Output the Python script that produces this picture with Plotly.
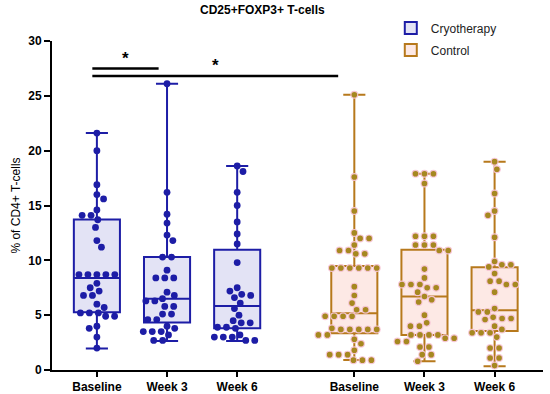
import math
import plotly.graph_objects as go

# ---------------- data ----------------
tick_labels = ["Baseline", "Week 3", "Week 6", "Baseline", "Week 3", "Week 6"]
positions = [0, 1, 2, 3.67, 4.67, 5.67]

cryo_baseline = [21.6, 20.0, 16.9, 16.0, 15.6, 14.6, 14.1, 14.1, 13.7, 13.0, 11.8, 11.2,
                 8.7, 8.7, 8.7, 8.7, 8.7, 7.9, 7.5, 7.2, 6.8, 6.8, 6.0, 5.7, 5.2, 5.2, 5.2,
                 4.9, 4.9, 4.0, 3.8, 3.0, 2.0]
cryo_week3 = [26.1, 16.2, 14.2, 13.4, 12.3, 11.8, 10.3, 10.3, 9.1, 8.4, 8.4, 8.4, 7.1, 6.8,
              6.5, 6.3, 6.3, 5.8, 5.8, 5.1, 5.1, 4.6, 4.6, 4.0, 3.8, 3.5, 3.5, 3.5, 3.2, 2.7, 2.7]
cryo_week6 = [18.6, 18.1, 16.2, 15.0, 13.5, 12.4, 11.5, 9.8, 7.5, 7.2, 6.9, 6.8, 6.6, 6.1,
              5.6, 5.0, 4.5, 4.3, 4.3, 3.9, 3.9, 3.8, 3.2, 3.0, 3.0, 3.0, 2.7, 2.7]
ctrl_baseline = [25.1, 17.6, 14.5, 12.5, 12.0, 12.0, 11.4, 10.9, 10.9, 10.6, 10.6,
                 9.3, 9.3, 9.3, 9.3, 9.3, 9.3, 7.6, 6.8, 6.1, 5.5, 5.5, 4.9, 4.9, 4.9, 4.9,
                 3.8, 3.7, 3.7, 3.7, 3.7, 3.7, 3.2, 3.2, 2.8, 2.4, 1.8, 1.4, 1.4, 1.4, 0.9, 0.9, 0.9]
ctrl_week3 = [17.9, 17.9, 17.9, 17.0, 12.2, 12.2, 12.2, 11.4, 11.4, 11.4, 10.9, 10.9, 9.2,
              8.4, 7.8, 7.8, 7.8, 7.5, 7.5, 7.1, 6.7, 6.4, 6.2, 5.0, 4.3, 4.0, 4.0, 3.2, 3.2,
              3.2, 3.2, 2.9, 2.9, 2.6, 2.6, 2.1, 2.1, 1.4, 1.4, 0.8]
ctrl_week6 = [19.0, 18.3, 16.1, 14.5, 14.1, 12.1, 9.9, 9.6, 9.6, 9.4, 8.8, 8.1, 8.1, 7.8, 7.8,
              7.1, 5.6, 5.3, 5.3, 4.8, 4.7, 4.7, 4.6, 4.0, 3.7, 3.4, 3.4, 3.4, 3.0, 2.0, 2.0,
              1.1, 1.1, 0.4]

# box statistics (min / Q1 / median / Q3 / max)
cryo_min = [1.95, 2.64, 2.64]
cryo_q1 = [5.26, 4.34, 3.80]
cryo_med = [8.40, 6.50, 5.83]
cryo_q3 = [13.73, 10.30, 10.97]
cryo_max = [21.6, 26.1, 18.6]

ctrl_min = [0.91, 0.79, 0.35]
ctrl_q1 = [3.34, 3.19, 3.55]
ctrl_med = [5.17, 6.70, 5.45]
ctrl_q3 = [9.48, 10.96, 9.36]
ctrl_max = [25.1, 17.9, 18.98]

# significance brackets
sig_x0 = [-0.065, -0.065]
sig_x1 = [0.88, 3.44]
sig_y = [27.5, 26.8]
star_x = [0.41, 1.69]
star_y = [28.45, 27.75]

# ---------------- styling ----------------
BLUE = "#1d1da6"
BLUE_FILL = "#e3e3f5"
BROWN = "#b7791c"
BROWN_FILL = "#fde9e5"
OLIVE = "#a68820"
FONT = "Liberation Sans, Arial, sans-serif"

XPX = 70.4   # pixels per x unit (approx)
YPX = 10.97  # pixels per y unit (approx)


def swarm(vals, pos, step=9.0, dmin=8.0):
    """Compact beeswarm: equal values form symmetric rows, rows are shifted minimally."""
    s = sorted(vals, reverse=True)
    rows = []
    for v in s:
        if rows and rows[-1][0] - v < 0.15:
            rows[-1].append(v)
        else:
            rows.append([v])
    placed = []
    toggle = 1
    for r in rows:
        n = len(r)
        base = [((i - (n - 1) / 2) * step, v * YPX) for i, v in enumerate(r)]
        cands = {0.0}
        for bx, by in base:
            for qx, qy in placed:
                dy = abs(by - qy)
                if dy < dmin:
                    dx = math.sqrt(dmin ** 2 - dy ** 2) + 0.01
                    cands.add(qx + dx - bx)
                    cands.add(qx - dx - bx)
        order = sorted(cands, key=lambda c: (round(abs(c), 3), -toggle * c))
        chosen = None
        for sh in order:
            pts = [(bx + sh, by) for bx, by in base]
            if all((px - qx) ** 2 + (py - qy) ** 2 >= (dmin - 0.02) ** 2
                   for px, py in pts for qx, qy in placed):
                chosen = pts
                if abs(sh) > 0.5:
                    toggle = -1 if sh > 0 else 1
                break
        placed += chosen
    xs = [pos + p[0] / XPX for p in placed]
    ys = [p[1] / YPX for p in placed]
    return xs, ys


fig = go.Figure()

fig.add_trace(go.Box(
    name="Cryotherapy", legendgroup="cryo", x=positions[:3], q1=cryo_q1, median=cryo_med,
    q3=cryo_q3, lowerfence=cryo_min, upperfence=cryo_max, width=0.657, whiskerwidth=0.48,
    boxpoints=False, line=dict(color=BLUE, width=2), fillcolor=BLUE_FILL,
))
fig.add_trace(go.Box(
    name="Control", legendgroup="ctrl", x=positions[3:], q1=ctrl_q1, median=ctrl_med,
    q3=ctrl_q3, lowerfence=ctrl_min, upperfence=ctrl_max, width=0.657, whiskerwidth=0.48,
    boxpoints=False, line=dict(color=BROWN, width=2), fillcolor=BROWN_FILL,
))

groups = [cryo_baseline, cryo_week3, cryo_week6, ctrl_baseline, ctrl_week3, ctrl_week6]
for i, (vals, pos) in enumerate(zip(groups, positions)):
    xs, ys = swarm(vals, pos)
    cryo = i < 3
    fig.add_trace(go.Scatter(
        x=xs, y=ys, mode="markers", showlegend=False, hoverinfo="y",
        legendgroup="cryo" if cryo else "ctrl",
        marker=dict(size=6.8, color=BLUE if cryo else OLIVE,
                    line=dict(width=0 if cryo else 1.2,
                              color=BLUE if cryo else "rgba(250,200,220,0.9)")),
    ))

for x0, x1, y in zip(sig_x0, sig_x1, sig_y):
    fig.add_shape(type="line", x0=x0, x1=x1, y0=y, y1=y, xref="x", yref="y",
                  line=dict(color="black", width=2.5))
for sx, sy in zip(star_x, star_y):
    fig.add_annotation(x=sx, y=sy, text="<b>*</b>", showarrow=False, xref="x", yref="y",
                       font=dict(size=17, color="black", family=FONT), yanchor="middle")

fig.update_layout(
    width=550, height=394,
    margin=dict(l=52, r=7, t=41, b=24, autoexpand=False),
    plot_bgcolor="white", paper_bgcolor="white",
    boxmode="overlay",
    font=dict(family=FONT, color="black", size=12),
    title=dict(text="<b>CD25+FOXP3+ T-cells</b>", x=0.477, xanchor="center",
               y=0.975, yanchor="middle", yref="container",
               font=dict(size=12, family=FONT, color="black")),
    legend=dict(x=0.69, y=0.966, xanchor="left", yanchor="top",
                xref="paper", yref="container",
                font=dict(size=12, family=FONT, color="#222"),
                bgcolor="rgba(0,0,0,0)", tracegroupgap=3, itemwidth=30),
    xaxis=dict(range=[-0.64, 6.36], tickvals=positions, automargin=False,
               ticktext=["<b>%s</b>" % t for t in tick_labels],
               showline=True, linecolor="black", linewidth=2,
               ticks="outside", ticklen=5, tickwidth=2, tickcolor="black",
               showgrid=False, zeroline=False,
               tickfont=dict(size=12, family=FONT, color="black")),
    yaxis=dict(range=[0, 30], tickvals=[0, 5, 10, 15, 20, 25, 30], automargin=False,
               showline=True, linecolor="black", linewidth=2,
               ticks="outside", ticklen=6, tickwidth=2, tickcolor="black",
               showgrid=False, zeroline=False,
               tickfont=dict(size=12, family=FONT, color="black", weight="bold"),
               title=dict(text="% of CD4+ T-cells", standoff=5,
                          font=dict(size=12, family=FONT, color="black"))),
)

fig.write_html("out.html", config={"displayModeBar": False},
               post_script="document.body.style.margin='0';document.body.style.overflow='hidden';")
